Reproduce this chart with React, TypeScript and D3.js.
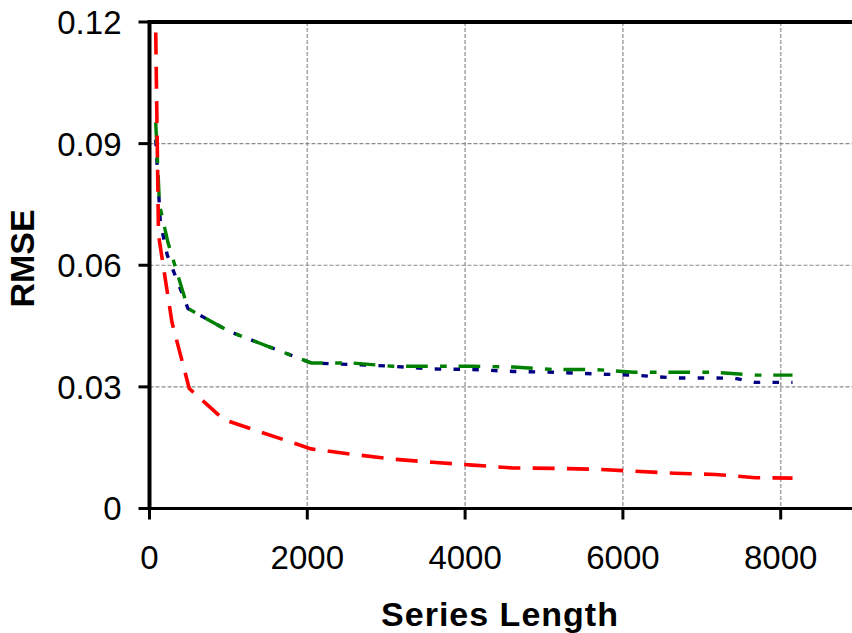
import React from "react";
import * as d3 from "d3";

const W = 852;
const H = 633;

// Axis ticks
const xTicks = [0, 2000, 4000, 6000, 8000];
const xTickLabels = ["0", "2000", "4000", "6000", "8000"];
const yTicks = [0, 0.03, 0.06, 0.09, 0.12];
const yTickLabels = ["0", "0.03", "0.06", "0.09", "0.12"];
const xGrid = [2000, 4000, 6000, 8000];
const yGrid = [0.03, 0.06, 0.09];

// Red dashed series
const dashedLength = [79, 114, 285, 504, 944, 2048, 2560, 3072, 3584, 4096, 4608, 5120, 5632, 6144, 6656, 7168, 7680, 8150];
const dashedRmse = [0.1174, 0.0675, 0.0459, 0.0296, 0.0219, 0.0147, 0.0134, 0.0122, 0.0114, 0.0107, 0.01, 0.0099, 0.0097, 0.0092, 0.0087, 0.0084, 0.0076, 0.0075];

// Navy dotted series
const dottedLength = [79, 137, 224, 488, 1020, 2048, 2560, 3072, 3584, 4096, 4608, 5120, 5632, 6144, 6656, 7168, 7424, 7680, 8150];
const dottedRmse = [0.091, 0.0706, 0.0626, 0.0493, 0.0436, 0.0359, 0.0355, 0.0351, 0.0344, 0.0343, 0.0338, 0.0336, 0.0332, 0.0329, 0.0322, 0.0322, 0.0321, 0.0311, 0.0311];

// Green dash-dot series
const dashDotLength = [79, 127, 234, 488, 1020, 2048, 2560, 3072, 3584, 4096, 4608, 5120, 5632, 6144, 6656, 7168, 7680, 8150];
const dashDotRmse = [0.0952, 0.0749, 0.0656, 0.0493, 0.0436, 0.0359, 0.0359, 0.0351, 0.0351, 0.0351, 0.0349, 0.0343, 0.0343, 0.0336, 0.0336, 0.0336, 0.0329, 0.0329];

const FONT = "'Liberation Sans', Arial, Helvetica, sans-serif";

export default function App() {
  const left = 149.5;
  const top = 22;
  const bottom = 508.5;

  const x = d3.scaleLinear().domain([0, 8000]).range([left, left + 8000 * 0.0789]);
  const y = d3.scaleLinear().domain([0, 0.12]).range([bottom, top]);

  const line = d3
    .line<[number, number]>()
    .x((d) => x(d[0]))
    .y((d) => y(d[1]));

  const zip = (a: number[], b: number[]) => a.map((v, i) => [v, b[i]] as [number, number]);

  const series = [
    { pts: zip(dottedLength, dottedRmse), color: "#000080", dash: "6.5,12.3", width: 3.4 },
    { pts: zip(dashDotLength, dashDotRmse), color: "#008000", dash: "21.7,12.3,6.7,11.8", width: 3.4 },
    { pts: zip(dashedLength, dashedRmse), color: "#ff0000", dash: "22,12.3", width: 3.6 },
  ];

  return (
    <svg
      width={W}
      height={H}
      viewBox={`0 0 ${W} ${H}`}
      style={{ position: "absolute", left: 0, top: 0, display: "block", background: "#fff" }}
    >
      <rect x={0} y={0} width={W} height={H} fill="#fff" />

      {/* grid */}
      {xGrid.map((v) => (
        <line key={`gx${v}`} x1={x(v)} x2={x(v)} y1={top} y2={bottom} stroke="#a8a8a8" strokeWidth={1.6} strokeDasharray="4,2" />
      ))}
      {yGrid.map((v) => (
        <line key={`gy${v}`} x1={left} x2={W} y1={y(v)} y2={y(v)} stroke="#8a8a8a" strokeWidth={1.2} strokeDasharray="4,2" />
      ))}

      {/* series */}
      {series.map((s, i) => (
        <path
          key={i}
          d={line(s.pts) || ""}
          fill="none"
          stroke={s.color}
          strokeWidth={s.width}
          strokeDasharray={s.dash}
          strokeLinejoin="miter"
        />
      ))}

      {/* frame */}
      <line x1={left} x2={W} y1={top} y2={top} stroke="#000" strokeWidth={4} />
      <line x1={left} x2={left} y1={top - 2} y2={bottom + 1.5} stroke="#000" strokeWidth={4} />
      <line x1={left - 2} x2={W} y1={bottom} y2={bottom} stroke="#000" strokeWidth={3.2} />

      {/* y axis ticks */}
      {yTicks.map((v, i) => (
        <g key={`yt${v}`}>
          <line x1={left - 11} x2={left} y1={y(v)} y2={y(v)} stroke="#000" strokeWidth={3} />
          <text
            x={121.5}
            y={y(v)}
            dy="0.36em"
            textAnchor="end"
            fontFamily={FONT}
            fontSize={33}
            fill="#000"
          >
            {yTickLabels[i]}
          </text>
        </g>
      ))}

      {/* x axis ticks */}
      {xTicks.map((v, i) => (
        <g key={`xt${v}`}>
          <line x1={x(v)} x2={x(v)} y1={bottom} y2={bottom + 11} stroke="#000" strokeWidth={3} />
          <text
            x={x(v)}
            y={569}
            textAnchor="middle"
            fontFamily={FONT}
            fontSize={33}
            fill="#000"
          >
            {xTickLabels[i]}
          </text>
        </g>
      ))}

      {/* axis titles */}
      <text
        x={500}
        y={626}
        textAnchor="middle"
        fontFamily={FONT}
        fontWeight="bold"
        fontSize={34}
        letterSpacing={1}
        fill="#000"
      >
        Series Length
      </text>
      <text
        transform="translate(34,258.5) rotate(-90)"
        textAnchor="middle"
        fontFamily={FONT}
        fontWeight="bold"
        fontSize={34}
        fill="#000"
      >
        RMSE
      </text>
    </svg>
  );
}
